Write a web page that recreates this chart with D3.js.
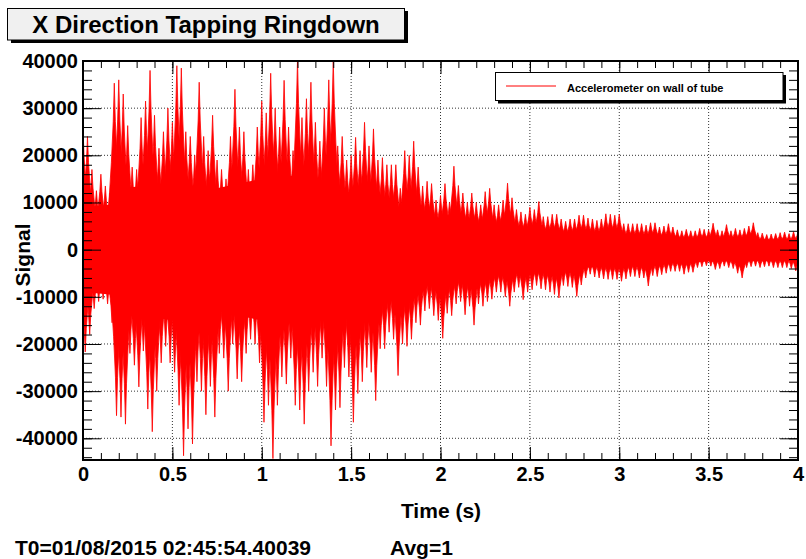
<!DOCTYPE html>
<html>
<head>
<meta charset="utf-8">
<script src="https://cdn.jsdelivr.net/npm/d3@7"></script>
<style>
  body { margin: 0; background: #fff; }
  text { font-family: "Liberation Sans", Arial, Helvetica, sans-serif; font-weight: bold; }
</style>
</head>
<body>
<div id="chart"></div>
<script>
// peak values, one pair per 0.025 s bin (0 .. 4 s)
var binStep = 0.025;
var upperPeaks = [
  25800, 24000, 17000, 12500, 16000, 13500, 12000, 35300, 36000, 33000,
  26300, 17500, 17000, 28000, 31500, 38000, 28500, 21500, 25000, 30000,
  27000, 39000, 38500, 25000, 24000, 20000, 35500, 24000, 21000, 28500,
  19000, 17000, 15000, 24000, 34000, 26000, 25000, 17000, 18000, 26000,
  31500, 29000, 37400, 30000, 26000, 35900, 26000, 21000, 40300, 28000,
  32000, 35500, 27000, 23000, 30000, 36000, 40300, 22000, 24000, 19000,
  20000, 23800, 21000, 27000, 22000, 25600, 19000, 19500, 18000, 18000,
  18000, 13000, 21000, 20000, 23000, 17500, 13500, 14500, 14000, 10500,
  11500, 14000, 10000, 17700, 13600, 12000, 10000, 12000, 10000, 9500,
  12300, 13000, 9500, 9500, 10500, 14100, 11000, 8500, 8000, 7500,
  9000, 8500, 10200, 7000, 7000, 7500, 7500, 6500, 6000, 6500,
  6500, 7300, 7300, 6700, 6500, 6200, 6500, 7600, 7500, 7300,
  7500, 5500, 5500, 5500, 5500, 5500, 5200, 5700, 5700, 4800,
  5000, 5500, 4800, 4200, 4000, 4300, 4000, 4000, 4500, 4300,
  4200, 5600, 4200, 4000, 5300, 4000, 4500, 4200, 4500, 5000,
  5700, 3600, 3500, 3200, 3300, 3400, 3600, 3700, 3400, 3800,
  3800
];
var lowerPeaks = [
  -21700, -18000, -12500, -11000, -10500, -11500, -15500, -35200, -35500, -37000,
  -22000, -24500, -29100, -21500, -33800, -38600, -30000, -24000, -20500, -24000,
  -26000, -33000, -43700, -38000, -41200, -28000, -30000, -35000, -29000, -35500,
  -22000, -23000, -30000, -20000, -27400, -28000, -22000, -19000, -20000, -24000,
  -36600, -33000, -44300, -33000, -27000, -28500, -23000, -33000, -34000, -37000,
  -30000, -26000, -29000, -23000, -29000, -41600, -34000, -33500, -25000, -27000,
  -36600, -30500, -28000, -25000, -26000, -32000, -21000, -21000, -17500, -19000,
  -26700, -20000, -20500, -19000, -15500, -16000, -13000, -12500, -14000, -15000,
  -18800, -13500, -14000, -11500, -11000, -13800, -12000, -16000, -11500, -12000,
  -11000, -10500, -9000, -9000, -10000, -12000, -9000, -8000, -10600, -9000,
  -8500, -7600, -8300, -8500, -9000, -9500, -10250, -7600, -7800, -8000,
  -9900, -7500, -6000, -5200, -5800, -6000, -6200, -6300, -6300, -6300,
  -6700, -6200, -5700, -5700, -6000, -6000, -7700, -5500, -5700, -5300,
  -5000, -4600, -4600, -4600, -5200, -4800, -4800, -3800, -3600, -3400,
  -3500, -4200, -4000, -3500, -3800, -4000, -5000, -6000, -3800, -3600,
  -3500, -3800, -3600, -3500, -3800, -3800, -3800, -3800, -4000, -4500,
  -4000
];
// solid band of the trace (where the oscillation fills every pixel column)
var coreTimes = [0, 0.15, 0.2, 0.5, 0.75, 1.0, 1.25, 1.5, 1.75, 2.0, 2.25, 2.5, 2.75, 3.0, 3.25, 3.5, 3.75, 4.0];
var coreHigh = [9000, 9500, 13000, 14000, 13000, 15000, 16000, 12000, 8500, 6000, 5000, 4000, 3500, 2900, 2600, 2400, 2200, 2000];
var coreLow = [-9000, -9500, -13000, -15000, -13000, -15000, -16000, -13500, -9500, -6500, -5500, -4800, -4000, -3300, -2900, -2500, -2400, -2300];

var xTicks = [0, 0.5, 1, 1.5, 2, 2.5, 3, 3.5, 4];
var yTicks = [-40000, -30000, -20000, -10000, 0, 10000, 20000, 30000, 40000];

var width = 806, height = 559;
var frame = {left: 83, right: 798, top: 61, bottom: 460};

var svg = d3.select("#chart").append("svg")
    .attr("width", width)
    .attr("height", height);

svg.append("rect").attr("width", width).attr("height", height).style("fill", "#fff");

var x = d3.scaleLinear().domain([0, 4]).range([frame.left, frame.right]);
var y = d3.scaleLinear().domain([-44600, 40000]).range([frame.bottom, frame.top]);

// grid
var grid = svg.append("g").attr("class", "grid");
grid.selectAll(".gx").data(xTicks.slice(1, -1)).enter().append("line")
    .attr("x1", d => x(d)).attr("x2", d => x(d))
    .attr("y1", frame.top).attr("y2", frame.bottom);
grid.selectAll(".gy").data(yTicks.slice(0, -1)).enter().append("line")
    .attr("x1", frame.left).attr("x2", frame.right)
    .attr("y1", d => y(d)).attr("y2", d => y(d));
grid.selectAll("line")
    .style("stroke", "#333")
    .style("stroke-width", 1)
    .style("stroke-dasharray", "1,2");

// clip for the trace
svg.append("clipPath").attr("id", "plotClip")
  .append("rect")
    .attr("x", frame.left).attr("y", frame.top)
    .attr("width", frame.right - frame.left).attr("height", frame.bottom - frame.top);

var traceGroup = svg.append("g").attr("clip-path", "url(#plotClip)");

var coreArea = d3.area()
    .x((d, i) => x(coreTimes[i]))
    .y0((d, i) => y(coreLow[i]))
    .y1((d, i) => y(coreHigh[i]));

traceGroup.append("path")
    .datum(coreTimes)
    .attr("d", coreArea)
    .style("fill", "#ff0000");

// each bin's peak drawn as a concave spike standing on the zero line:
// wide at the base so the band fills in, hair-thin at the tip
var spikeHalf = binStep * 2;
function spike(t, v) {
    var px = x(t), half = x(spikeHalf) - x(0);
    var base = y(0), tip = y(v), mid = base + (tip - base) * 0.55;
    var p = d3.path();
    p.moveTo(px - half, base);
    p.quadraticCurveTo(px - half * 0.15, mid, px, tip);
    p.quadraticCurveTo(px + half * 0.15, mid, px + half, base);
    p.closePath();
    return p.toString();
}

traceGroup.selectAll(".spikeUp")
    .data(upperPeaks)
    .enter().append("path")
    .attr("class", "spikeUp")
    .attr("d", (v, i) => spike(i * binStep, v));

traceGroup.selectAll(".spikeDown")
    .data(lowerPeaks)
    .enter().append("path")
    .attr("class", "spikeDown")
    .attr("d", (v, i) => spike(i * binStep + binStep / 2, v));

traceGroup.selectAll(".spikeUp, .spikeDown")
    .style("fill", "#ff0000")
    .style("stroke", "#ff0000")
    .style("stroke-width", 0.8);

// axes: ticks point inwards on all four sides
function styleAxis(g) {
    g.select(".domain").remove();
    g.selectAll(".tick line").style("stroke", "#000").style("stroke-width", 1);
}

var xMinor = x.ticks(40);
var yMinor = d3.range(-44000, 40001, 2000);

svg.append("g").attr("transform", "translate(0," + frame.bottom + ")")
    .call(d3.axisBottom(x).tickValues(xMinor).tickSize(-7).tickFormat(""))
    .call(styleAxis);
svg.append("g").attr("transform", "translate(0," + frame.top + ")")
    .call(d3.axisTop(x).tickValues(xMinor).tickSize(-7).tickFormat(""))
    .call(styleAxis);
svg.append("g").attr("transform", "translate(" + frame.left + ",0)")
    .call(d3.axisLeft(y).tickValues(yMinor).tickSize(-9).tickFormat(""))
    .call(styleAxis);
svg.append("g").attr("transform", "translate(" + frame.right + ",0)")
    .call(d3.axisRight(y).tickValues(yMinor).tickSize(-9).tickFormat(""))
    .call(styleAxis);

var xAxis = svg.append("g").attr("transform", "translate(0," + frame.bottom + ")")
    .call(d3.axisBottom(x).tickValues(xTicks).tickSizeInner(-13).tickSizeOuter(0)
        .tickPadding(7).tickFormat(d => String(d)))
    .call(styleAxis);
xAxis.selectAll("text").style("font-size", "20px").style("fill", "#000");

svg.append("g").attr("transform", "translate(0," + frame.top + ")")
    .call(d3.axisTop(x).tickValues(xTicks).tickSize(-13).tickFormat(""))
    .call(styleAxis);

var yAxis = svg.append("g").attr("transform", "translate(" + frame.left + ",0)")
    .call(d3.axisLeft(y).tickValues(yTicks).tickSizeInner(-18).tickSizeOuter(0)
        .tickPadding(5).tickFormat(d => String(d)))
    .call(styleAxis);
yAxis.selectAll("text").style("font-size", "20px").style("fill", "#000");

svg.append("g").attr("transform", "translate(" + frame.right + ",0)")
    .call(d3.axisRight(y).tickValues(yTicks).tickSize(-18).tickFormat(""))
    .call(styleAxis);

// frame
svg.append("rect")
    .attr("x", frame.left).attr("y", frame.top)
    .attr("width", frame.right - frame.left).attr("height", frame.bottom - frame.top)
    .style("fill", "none").style("stroke", "#000").style("stroke-width", 2);

// axis titles
svg.append("text")
    .attr("x", 441).attr("y", 518)
    .attr("text-anchor", "middle")
    .style("font-size", "21px")
    .text("Time (s)");

svg.append("text")
    .attr("transform", "translate(30,255) rotate(-90)")
    .attr("text-anchor", "middle")
    .style("font-size", "21px")
    .text("Signal");

// title box with shadow
svg.append("rect").attr("x", 11).attr("y", 11).attr("width", 397).attr("height", 32).style("fill", "#000");
svg.append("rect").attr("x", 7.5).attr("y", 8.5).attr("width", 397).attr("height", 31.5)
    .style("fill", "#f0f0f0").style("stroke", "#000").style("stroke-width", 1);
svg.append("text")
    .attr("x", 206).attr("y", 33)
    .attr("text-anchor", "middle")
    .style("font-size", "24px")
    .text("X Direction Tapping Ringdown");

// legend
var legend = svg.append("g").attr("class", "legend");
legend.append("rect").attr("x", 498).attr("y", 75).attr("width", 288).attr("height", 28.5).style("fill", "#000");
legend.append("rect").attr("x", 495.5).attr("y", 72.5).attr("width", 287.5).attr("height", 28)
    .style("fill", "#fff").style("stroke", "#000").style("stroke-width", 1);
legend.append("line")
    .attr("x1", 506).attr("x2", 556).attr("y1", 86).attr("y2", 86)
    .style("stroke", "#ff0000").style("stroke-width", 1);
legend.append("text")
    .attr("x", 567).attr("y", 91.5)
    .style("font-size", "11px")
    .text("Accelerometer on wall of tube");

// footer
svg.append("text").attr("x", 15).attr("y", 555).style("font-size", "21px")
    .text("T0=01/08/2015 02:45:54.40039");
svg.append("text").attr("x", 390).attr("y", 555).style("font-size", "21px")
    .text("Avg=1");
</script>
</body>
</html>
